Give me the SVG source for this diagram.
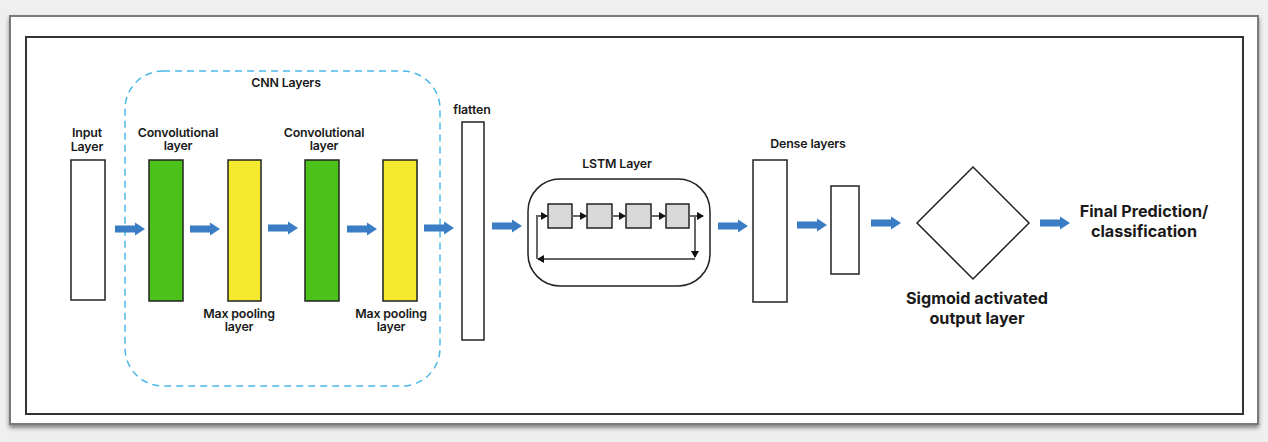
<svg xmlns="http://www.w3.org/2000/svg" width="1268" height="442" viewBox="0 0 1268 442">
<style>
text{font-family:Inter,"Liberation Sans",sans-serif;fill:#1a1a1a;text-anchor:middle}
.s{font-size:12.4px;font-weight:600;letter-spacing:-0.15px}
.b{font-size:16.2px;font-weight:700}
.box{fill:#fff;stroke:#222;stroke-width:1.5}
.conv{fill:#4cc11a;stroke:#222;stroke-width:1.5}
.pool{fill:#f4e92c;stroke:#222;stroke-width:1.5}
.cell{fill:#d9d9d9;stroke:#222;stroke-width:1.5}
.ba{fill:#3a7dc5}
.ln{fill:none;stroke:#666;stroke-width:2}
</style>
<defs>
<filter id="sh" x="-5%" y="-5%" width="110%" height="115%">
<feDropShadow dx="0" dy="3" stdDeviation="2" flood-color="#000" flood-opacity="0.45"/>
</filter>
<filter id="gl" x="-20%" y="-50%" width="140%" height="200%">
<feGaussianBlur stdDeviation="0.6"/>
</filter>
<symbol id="arr" overflow="visible">
<g class="ba" filter="url(#gl)">
<rect x="0" y="-3.5" width="22" height="7"/>
<polygon points="20,-6.5 30,0 20,6.5"/>
</g>
</symbol>
<marker id="mh" markerWidth="8" markerHeight="8" refX="6" refY="4" orient="auto" markerUnits="userSpaceOnUse">
<path d="M0,0 L7,4 L0,8 Z" fill="#111"/>
</marker>
</defs>
<rect width="1268" height="442" fill="#efefef"/>
<rect x="10" y="16" width="1248" height="408" fill="#fff" stroke="#7a7a7a" stroke-width="2" filter="url(#sh)"/>
<rect x="26" y="37" width="1217" height="377" fill="none" stroke="#333" stroke-width="2"/>

<g id="cnn-group">
<rect x="125" y="71" width="315" height="315" rx="38" fill="none" stroke="#4cb8e6" stroke-width="1.5" stroke-dasharray="7,5"/>
<text class="s" x="286" y="87">CNN Layers</text>
</g>

<g id="input-layer">
<rect class="box" x="71" y="160" width="34" height="140"/>
<text class="s" x="87" y="137">Input</text>
<text class="s" x="87" y="151">Layer</text>
</g>
<g id="conv1">
<rect class="conv" x="149" y="160" width="34" height="141"/>
<text class="s" x="178" y="137">Convolutional</text>
<text class="s" x="178" y="150">layer</text>
</g>
<g id="pool1">
<rect class="pool" x="228" y="160" width="33" height="141"/>
<text class="s" x="239" y="318">Max pooling</text>
<text class="s" x="239" y="331">layer</text>
</g>
<g id="conv2">
<rect class="conv" x="305" y="160" width="34" height="141"/>
<text class="s" x="324" y="137">Convolutional</text>
<text class="s" x="324" y="150">layer</text>
</g>
<g id="pool2">
<rect class="pool" x="383" y="160" width="34" height="141"/>
<text class="s" x="391" y="318">Max pooling</text>
<text class="s" x="391" y="331">layer</text>
</g>
<g id="flatten">
<rect class="box" x="462" y="122" width="22" height="218"/>
<text class="s" x="472" y="114">flatten</text>
</g>
<g id="lstm">
<rect x="528" y="179" width="182" height="107" rx="32" fill="#fff" stroke="#222" stroke-width="1.5"/>
<text class="s" x="617" y="168">LSTM Layer</text>
<rect class="cell" x="548" y="204" width="24" height="24"/>
<rect class="cell" x="587" y="204" width="25" height="24"/>
<rect class="cell" x="626" y="204" width="25" height="24"/>
<rect class="cell" x="666" y="204" width="23" height="24"/>
<line class="ln" x1="572" y1="216" x2="586" y2="216" marker-end="url(#mh)"/>
<line class="ln" x1="612" y1="216" x2="625" y2="216" marker-end="url(#mh)"/>
<line class="ln" x1="651" y1="216" x2="665" y2="216" marker-end="url(#mh)"/>
<line class="ln" x1="689" y1="216" x2="703" y2="216" marker-end="url(#mh)"/>
<line class="ln" x1="695" y1="216" x2="695" y2="257" marker-end="url(#mh)"/>
<line class="ln" x1="695" y1="259" x2="538" y2="259" marker-end="url(#mh)"/>
<polyline class="ln" points="537,259 537,216 547,216" marker-end="url(#mh)"/>
</g>
<g id="dense1">
<rect class="box" x="753" y="160" width="34" height="142"/>
<text class="s" x="808" y="148">Dense layers</text>
</g>
<g id="dense2">
<rect class="box" x="831" y="186" width="28" height="88"/>
</g>
<g id="output">
<polygon points="973,167 1029,223 973,279 917,223" fill="#fff" stroke="#222" stroke-width="1.5"/>
<text class="b" x="977" y="304">Sigmoid activated</text>
<text class="b" x="977" y="324">output layer</text>
</g>
<g id="prediction">
<text class="b" x="1144" y="217">Final Prediction/</text>
<text class="b" x="1144" y="237">classification</text>
</g>

<g id="connectors">
<use href="#arr" x="115" y="229"/>
<use href="#arr" x="190" y="229"/>
<use href="#arr" x="268" y="228"/>
<use href="#arr" x="347" y="229"/>
<use href="#arr" x="424" y="228"/>
<use href="#arr" x="492" y="226"/>
<use href="#arr" x="718" y="226"/>
<use href="#arr" x="797" y="225"/>
<use href="#arr" x="871" y="223"/>
<use href="#arr" x="1040" y="223"/>
</g>
</svg>
